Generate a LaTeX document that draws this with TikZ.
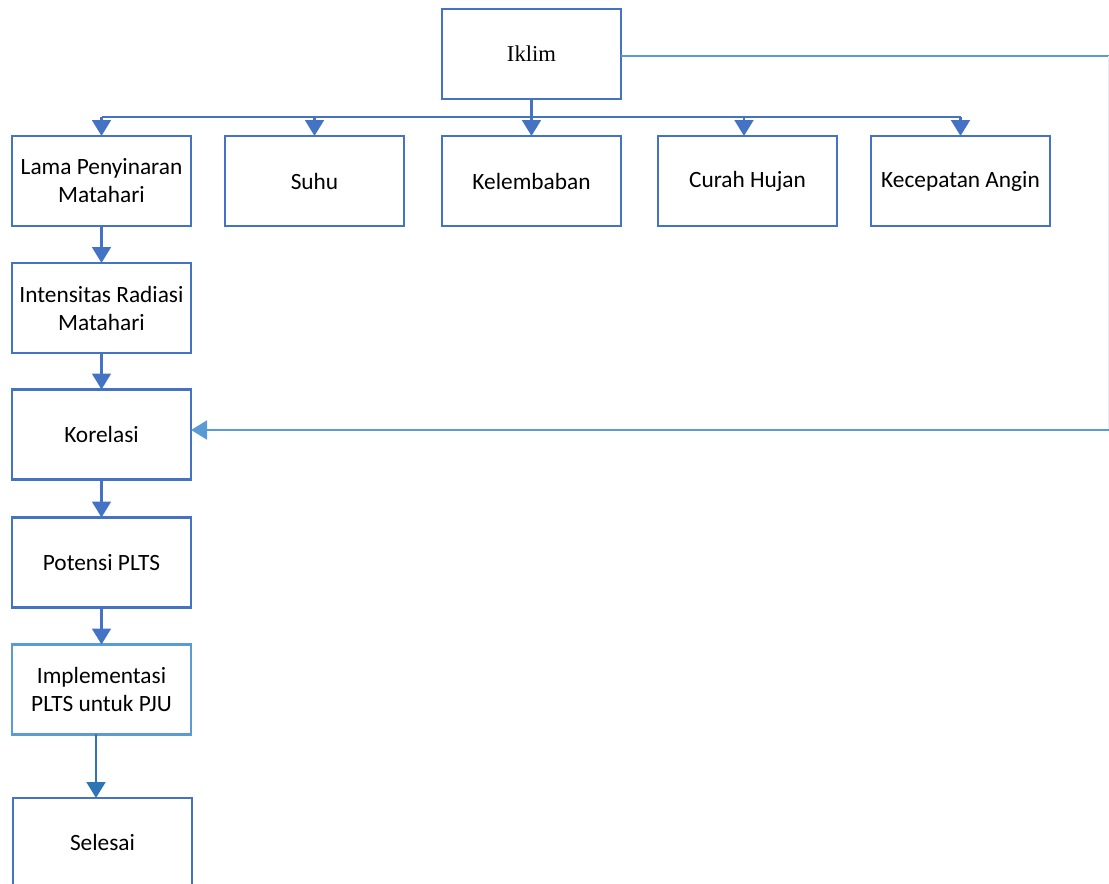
\documentclass[tikz,border=0pt]{standalone}
\usepackage{fontspec}
\setmainfont{Carlito}
\newfontfamily\tnr{Liberation Serif}
\usetikzlibrary{arrows.meta}
\definecolor{boxblue}{HTML}{4472C4}
\definecolor{lightblue}{HTML}{5B9BD5}
\definecolor{midblue}{HTML}{2E75B6}
\definecolor{faint}{HTML}{E8EDF4}
\tikzset{
  box/.style={draw=boxblue, line width=2.2pt, fill=white, minimum width=134.25pt, minimum height=67.5pt, inner sep=0pt, outer sep=0pt, align=center, font=\fontsize{17.5}{21}\selectfont},
  conn/.style={draw=boxblue, line width=2.2pt},
  tip/.style={-{Triangle[width=14pt,length=12pt]}},
  arr/.style={conn, tip},
}
\begin{document}
\begin{tikzpicture}[x=0.75pt,y=-0.75pt]
\useasboundingbox (0,0) rectangle (1109,883);
\node[box, font=\tnr\fontsize{17}{20}\selectfont] (iklim) at (531.5,54) {Iklim};
\node[box] (lama) at (101.5,181) {Lama Penyinaran\\Matahari};
\node[box] (suhu) at (314.5,181) {Suhu};
\node[box] (kelem) at (531.5,181) {Kelembaban};
\node[box] (curah) at (747.5,181) {Curah Hujan};
\node[box] (angin) at (960.5,181) {Kecepatan Angin};
\node[box] (intens) at (101.5,308) {Intensitas Radiasi\\Matahari};
\node[box] (korel) at (101.5,434.5) {Korelasi};
\node[box] (potensi) at (101.5,562.5) {Potensi PLTS};
\node[box, draw=lightblue] (impl) at (101.5,689.5) {Implementasi\\PLTS untuk PJU};
\node[box, minimum height=97.5pt] (selesai) at (102.5,863) {};
\node[font=\fontsize{17.5}{21}\selectfont] (seltext) at (102.5,842) {Selesai};
% bus
\coordinate (bus) at (531.5,117);
\coordinate (busL) at (101.5,117);
\coordinate (busR) at (960.5,117);
\draw[conn] (iklim.south) -- (bus);
\draw[conn] (busL) -- (busR);
\draw[arr] (busL) -- (lama.north);
\draw[arr] (314.5,117) -- (suhu.north);
\draw[arr] (bus) -- (kelem.north);
\draw[arr] (744,117) -- (744,136);
\draw[arr] (busR) -- (angin.north);
% left chain
\draw[arr] (lama.south) -- (intens.north);
\draw[arr] (intens.south) -- (korel.north);
\draw[arr] (korel.south) -- (potensi.north);
\draw[arr] (potensi.south) -- (impl.north);
\draw[arr, draw=midblue, fill=midblue] (96,734) -- (96,798);
% feedback
\coordinate (fbA) at (1108.5,56);
\coordinate (fbB) at (1108.5,430);
\draw[draw=lightblue, line width=2.2pt] (iklim.east |- fbA) -- (fbA);
\draw[draw=faint, line width=1pt] (fbA) -- (fbB);
\draw[draw=lightblue, line width=2.2pt, tip] (fbB) -- (korel.east |- fbB);
\end{tikzpicture}
\end{document}
